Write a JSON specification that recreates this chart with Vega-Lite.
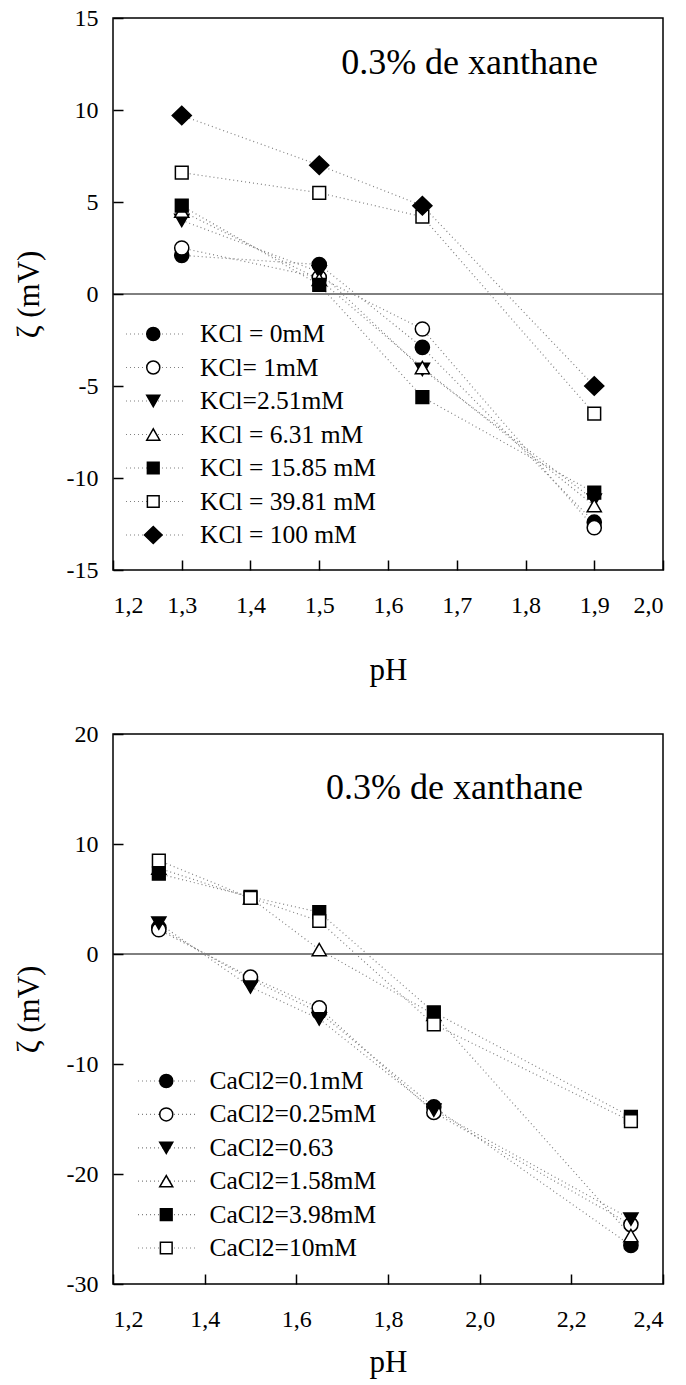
{
  "$schema": "https://vega.github.io/schema/vega-lite/v6.json",
  "background": "white",
  "padding": {"left": 12, "top": 5, "right": 5, "bottom": 5},
  "bounds": "flush",
  "spacing": 164,
  "resolve": {
    "scale": {"shape": "independent", "fill": "independent", "stroke": "independent"},
    "legend": {"shape": "independent", "fill": "independent", "stroke": "independent"}
  },
  "config": {
    "font": "Liberation Serif",
    "view": {"stroke": "black", "strokeWidth": 1.5},
    "axis": {
      "domain": false,
      "grid": false,
      "ticks": true,
      "tickSize": -10,
      "tickColor": "black",
      "tickWidth": 1.5,
      "labelFont": "Liberation Serif",
      "labelFontSize": 24,
      "labelColor": "black",
      "labelPadding": 25,
      "titleFont": "Liberation Serif",
      "titleFontSize": 31,
      "titleFontWeight": "normal",
      "titleColor": "black"
    },
    "axisY": {"titlePadding": 21},
    "axisX": {"labelPadding": 33},
    "legend": {
      "padding": 0,
      "labelFont": "Liberation Serif",
      "labelFontSize": 25.5,
      "labelColor": "black",
      "labelLimit": 0
    }
  },
  "vconcat": [
    {
      "width": 550,
      "height": 552,
      "data": {"values": [
        {"pH": 1.3, "zeta": 2.1, "series": "KCl = 0mM"},
        {"pH": 1.5, "zeta": 1.6, "series": "KCl = 0mM"},
        {"pH": 1.65, "zeta": -2.9, "series": "KCl = 0mM"},
        {"pH": 1.9, "zeta": -12.4, "series": "KCl = 0mM"},
        {"pH": 1.3, "zeta": 2.5, "series": "KCl= 1mM"},
        {"pH": 1.5, "zeta": 0.9, "series": "KCl= 1mM"},
        {"pH": 1.65, "zeta": -1.9, "series": "KCl= 1mM"},
        {"pH": 1.9, "zeta": -12.7, "series": "KCl= 1mM"},
        {"pH": 1.3, "zeta": 4.0, "series": "KCl=2.51mM"},
        {"pH": 1.5, "zeta": 1.2, "series": "KCl=2.51mM"},
        {"pH": 1.65, "zeta": -4.1, "series": "KCl=2.51mM"},
        {"pH": 1.9, "zeta": -11.2, "series": "KCl=2.51mM"},
        {"pH": 1.3, "zeta": 4.5, "series": "KCl = 6.31 mM"},
        {"pH": 1.5, "zeta": 0.8, "series": "KCl = 6.31 mM"},
        {"pH": 1.65, "zeta": -4.0, "series": "KCl = 6.31 mM"},
        {"pH": 1.9, "zeta": -11.5, "series": "KCl = 6.31 mM"},
        {"pH": 1.3, "zeta": 4.8, "series": "KCl = 15.85 mM"},
        {"pH": 1.5, "zeta": 0.5, "series": "KCl = 15.85 mM"},
        {"pH": 1.65, "zeta": -5.6, "series": "KCl = 15.85 mM"},
        {"pH": 1.9, "zeta": -10.8, "series": "KCl = 15.85 mM"},
        {"pH": 1.3, "zeta": 6.6, "series": "KCl = 39.81 mM"},
        {"pH": 1.5, "zeta": 5.5, "series": "KCl = 39.81 mM"},
        {"pH": 1.65, "zeta": 4.2, "series": "KCl = 39.81 mM"},
        {"pH": 1.9, "zeta": -6.5, "series": "KCl = 39.81 mM"},
        {"pH": 1.3, "zeta": 9.7, "series": "KCl = 100 mM"},
        {"pH": 1.5, "zeta": 7.0, "series": "KCl = 100 mM"},
        {"pH": 1.65, "zeta": 4.8, "series": "KCl = 100 mM"},
        {"pH": 1.9, "zeta": -5.0, "series": "KCl = 100 mM"}
      ]},
      "layer": [
        {
          "data": {"values": [{}]},
          "mark": {"type": "rule", "color": "black", "strokeWidth": 1},
          "encoding": {"y": {"datum": 0, "type": "quantitative"}}
        },
        {
          "mark": {"type": "line", "strokeDash": [1, 3], "strokeWidth": 1.2},
          "encoding": {
            "x": {"field": "pH", "type": "quantitative", "scale": {"domain": [1.2, 2.0], "nice": false, "zero": false}},
            "y": {"field": "zeta", "type": "quantitative", "scale": {"domain": [-15, 15], "nice": false}},
            "stroke": {
              "field": "series", "type": "nominal",
              "scale": {"range": ["#808080"]},
              "legend": {
                "orient": "none", "legendX": 12, "legendY": 303, "title": null,
                "symbolType": "stroke", "symbolSize": 3249, "symbolDash": [1, 3],
                "symbolStrokeWidth": 1.2, "symbolStrokeColor": "#808080",
                "labelExpr": "''", "clipHeight": 26, "rowPadding": 6.5, "zindex": 0
              }
            }
          }
        },
        {
          "mark": {"type": "point", "filled": true, "opacity": 1, "strokeWidth": 1.5, "size": 200},
          "encoding": {
            "x": {
              "field": "pH", "type": "quantitative",
              "scale": {"domain": [1.2, 2.0], "nice": false, "zero": false},
              "axis": {"values": [1.2, 1.3, 1.4, 1.5, 1.6, 1.7, 1.8, 1.9, 2.0], "labelExpr": "replace(format(datum.value, '.1f'), '.', ',')", "title": "pH", "titlePadding": 38}
            },
            "y": {
              "field": "zeta", "type": "quantitative",
              "scale": {"domain": [-15, 15], "nice": false},
              "axis": {"values": [-15, -10, -5, 0, 5, 10, 15], "labelExpr": "'' + datum.value", "title": "ζ (mV)"}
            },
            "stroke": {"value": "black"},
            "shape": {
              "field": "series", "type": "nominal",
              "scale": {
                "domain": ["KCl = 0mM", "KCl= 1mM", "KCl=2.51mM", "KCl = 6.31 mM", "KCl = 15.85 mM", "KCl = 39.81 mM", "KCl = 100 mM"],
                "range": ["circle", "circle", "triangle-down", "triangle-up", "M-0.9,-0.9H0.9V0.9H-0.9Z", "M-0.9,-0.9H0.9V0.9H-0.9Z", "M-1.35,0L0,-1.3L1.35,0L0,1.3Z"]
              },
              "legend": {"orient": "none", "legendX": 27.5, "legendY": 303, "title": null, "symbolSize": 170, "symbolStrokeColor": "black", "symbolStrokeWidth": 1.5, "labelOffset": 34, "clipHeight": 26, "rowPadding": 6.5, "zindex": 2,
                "encoding": {"symbols": {"stroke": {"value": "black"}, "strokeWidth": {"value": 1.5}}}}
            },
            "fill": {
              "field": "series", "type": "nominal",
              "scale": {
                "domain": ["KCl = 0mM", "KCl= 1mM", "KCl=2.51mM", "KCl = 6.31 mM", "KCl = 15.85 mM", "KCl = 39.81 mM", "KCl = 100 mM"],
                "range": ["black", "white", "black", "white", "black", "white", "black"]
              },
              "legend": {"orient": "none", "legendX": 27.5, "legendY": 303, "title": null, "symbolSize": 170, "symbolStrokeColor": "black", "symbolStrokeWidth": 1.5, "labelOffset": 34, "clipHeight": 26, "rowPadding": 6.5, "zindex": 2,
                "encoding": {"symbols": {"stroke": {"value": "black"}, "strokeWidth": {"value": 1.5}}}}
            }
          }
        },
        {
          "data": {"values": [{}]},
          "mark": {"type": "text", "font": "Liberation Serif", "fontSize": 36, "align": "right", "baseline": "alphabetic", "color": "black"},
          "encoding": {
            "x": {"datum": 1.9055, "type": "quantitative"},
            "y": {"datum": 11.96, "type": "quantitative"},
            "text": {"value": "0.3% de xanthane"}
          }
        }
      ]
    },
    {
      "width": 550,
      "height": 550,
      "data": {"values": [
        {"pH": 1.3, "zeta": 2.4, "series": "CaCl2=0.1mM"},
        {"pH": 1.5, "zeta": -2.3, "series": "CaCl2=0.1mM"},
        {"pH": 1.65, "zeta": -5.3, "series": "CaCl2=0.1mM"},
        {"pH": 1.9, "zeta": -13.9, "series": "CaCl2=0.1mM"},
        {"pH": 2.33, "zeta": -26.5, "series": "CaCl2=0.1mM"},
        {"pH": 1.3, "zeta": 2.2, "series": "CaCl2=0.25mM"},
        {"pH": 1.5, "zeta": -2.1, "series": "CaCl2=0.25mM"},
        {"pH": 1.65, "zeta": -4.9, "series": "CaCl2=0.25mM"},
        {"pH": 1.9, "zeta": -14.4, "series": "CaCl2=0.25mM"},
        {"pH": 2.33, "zeta": -24.6, "series": "CaCl2=0.25mM"},
        {"pH": 1.3, "zeta": 2.8, "series": "CaCl2=0.63"},
        {"pH": 1.5, "zeta": -3.0, "series": "CaCl2=0.63"},
        {"pH": 1.65, "zeta": -5.9, "series": "CaCl2=0.63"},
        {"pH": 1.9, "zeta": -14.2, "series": "CaCl2=0.63"},
        {"pH": 2.33, "zeta": -24.1, "series": "CaCl2=0.63"},
        {"pH": 1.3, "zeta": 7.8, "series": "CaCl2=1.58mM"},
        {"pH": 1.5, "zeta": 5.1, "series": "CaCl2=1.58mM"},
        {"pH": 1.65, "zeta": 0.4, "series": "CaCl2=1.58mM"},
        {"pH": 1.9, "zeta": -5.5, "series": "CaCl2=1.58mM"},
        {"pH": 2.33, "zeta": -25.6, "series": "CaCl2=1.58mM"},
        {"pH": 1.3, "zeta": 7.3, "series": "CaCl2=3.98mM"},
        {"pH": 1.5, "zeta": 5.2, "series": "CaCl2=3.98mM"},
        {"pH": 1.65, "zeta": 3.8, "series": "CaCl2=3.98mM"},
        {"pH": 1.9, "zeta": -5.3, "series": "CaCl2=3.98mM"},
        {"pH": 2.33, "zeta": -14.8, "series": "CaCl2=3.98mM"},
        {"pH": 1.3, "zeta": 8.5, "series": "CaCl2=10mM"},
        {"pH": 1.5, "zeta": 5.1, "series": "CaCl2=10mM"},
        {"pH": 1.65, "zeta": 3.0, "series": "CaCl2=10mM"},
        {"pH": 1.9, "zeta": -6.4, "series": "CaCl2=10mM"},
        {"pH": 2.33, "zeta": -15.2, "series": "CaCl2=10mM"}
      ]},
      "layer": [
        {
          "data": {"values": [{}]},
          "mark": {"type": "rule", "color": "black", "strokeWidth": 1},
          "encoding": {"y": {"datum": 0, "type": "quantitative"}}
        },
        {
          "mark": {"type": "line", "strokeDash": [1, 3], "strokeWidth": 1.2},
          "encoding": {
            "x": {"field": "pH", "type": "quantitative", "scale": {"domain": [1.2, 2.4], "nice": false, "zero": false}},
            "y": {"field": "zeta", "type": "quantitative", "scale": {"domain": [-30, 20], "nice": false}},
            "stroke": {
              "field": "series", "type": "nominal",
              "scale": {"range": ["#808080"]},
              "legend": {
                "orient": "none", "legendX": 24, "legendY": 334, "title": null,
                "symbolType": "stroke", "symbolSize": 3364, "symbolDash": [1, 3],
                "symbolStrokeWidth": 1.2, "symbolStrokeColor": "#808080",
                "labelExpr": "''", "clipHeight": 26, "rowPadding": 6.4, "zindex": 0
              }
            }
          }
        },
        {
          "mark": {"type": "point", "filled": true, "opacity": 1, "strokeWidth": 1.5, "size": 200},
          "encoding": {
            "x": {
              "field": "pH", "type": "quantitative",
              "scale": {"domain": [1.2, 2.4], "nice": false, "zero": false},
              "axis": {"values": [1.2, 1.4, 1.6, 1.8, 2.0, 2.2, 2.4], "labelExpr": "replace(format(datum.value, '.1f'), '.', ',')", "title": "pH", "titlePadding": 16}
            },
            "y": {
              "field": "zeta", "type": "quantitative",
              "scale": {"domain": [-30, 20], "nice": false},
              "axis": {"values": [-30, -20, -10, 0, 10, 20], "labelExpr": "'' + datum.value", "title": "ζ (mV)"}
            },
            "stroke": {"value": "black"},
            "shape": {
              "field": "series", "type": "nominal",
              "scale": {
                "domain": ["CaCl2=0.1mM", "CaCl2=0.25mM", "CaCl2=0.63", "CaCl2=1.58mM", "CaCl2=3.98mM", "CaCl2=10mM"],
                "range": ["circle", "circle", "triangle-down", "triangle-up", "M-0.9,-0.9H0.9V0.9H-0.9Z", "M-0.9,-0.9H0.9V0.9H-0.9Z"]
              },
              "legend": {"orient": "none", "legendX": 40.5, "legendY": 334, "title": null, "symbolSize": 170, "symbolStrokeColor": "black", "symbolStrokeWidth": 1.5, "labelOffset": 30.4, "clipHeight": 26, "rowPadding": 6.4, "zindex": 2,
                "encoding": {"symbols": {"stroke": {"value": "black"}, "strokeWidth": {"value": 1.5}}}}
            },
            "fill": {
              "field": "series", "type": "nominal",
              "scale": {
                "domain": ["CaCl2=0.1mM", "CaCl2=0.25mM", "CaCl2=0.63", "CaCl2=1.58mM", "CaCl2=3.98mM", "CaCl2=10mM"],
                "range": ["black", "white", "black", "white", "black", "white"]
              },
              "legend": {"orient": "none", "legendX": 40.5, "legendY": 334, "title": null, "symbolSize": 170, "symbolStrokeColor": "black", "symbolStrokeWidth": 1.5, "labelOffset": 30.4, "clipHeight": 26, "rowPadding": 6.4, "zindex": 2,
                "encoding": {"symbols": {"stroke": {"value": "black"}, "strokeWidth": {"value": 1.5}}}}
            }
          }
        },
        {
          "data": {"values": [{}]},
          "mark": {"type": "text", "font": "Liberation Serif", "fontSize": 36, "align": "right", "baseline": "alphabetic", "color": "black"},
          "encoding": {
            "x": {"datum": 2.2255, "type": "quantitative"},
            "y": {"datum": 14.09, "type": "quantitative"},
            "text": {"value": "0.3% de xanthane"}
          }
        }
      ]
    }
  ]
}
